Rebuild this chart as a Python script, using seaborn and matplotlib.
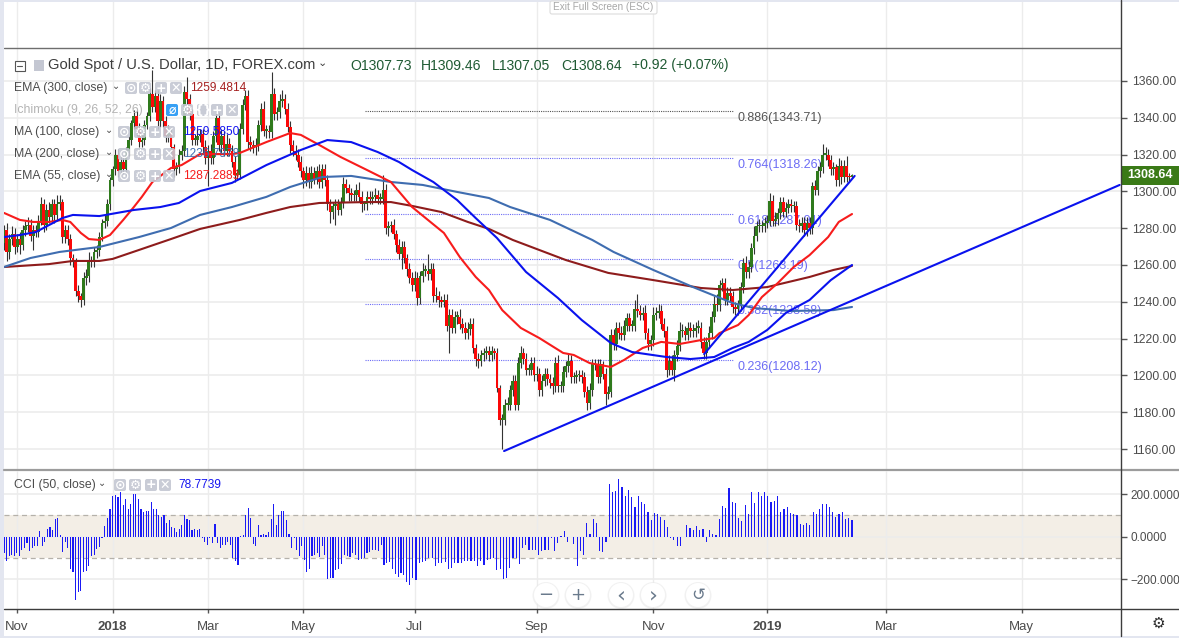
import numpy as np
import pandas as pd
import seaborn as sns
import matplotlib
matplotlib.use("Agg")
import matplotlib.pyplot as plt
from matplotlib.patches import FancyBboxPatch, Circle, Rectangle

# daily closes, bar 0 = left edge
closes = [
    1279,1267,1274,1277,1270,1274,1271,1279,1281,1282,
    1276,1279,1278,1284,1293,1282,1290,1286,1293,1287,
    1293,1294,1275,1279,1274,1264,1262,1246,1243,1241,
    1253,1254,1262,1262,1267,1268,1275,1283,1284,1293,
    1306,1312,1320,1311,1316,1312,1322,1328,1337,1341,
    1334,1327,1328,1336,1341,1353,1346,1352,1338,1349,
    1338,1330,1332,1324,1312,1313,1320,1322,1354,1350,
    1342,1328,1328,1330,1331,1324,1318,1322,1318,1330,
    1340,1325,1330,1322,1326,1322,1316,1309,1309,1334,
    1347,1352,1327,1325,1324,1325,1336,1345,1333,1333,
    1332,1353,1342,1343,1349,1350,1345,1335,1325,1322,
    1320,1316,1311,1306,1310,1305,1310,1307,1311,1305,
    1312,1306,1293,1289,1292,1293,1290,1294,1304,1302,
    1299,1298,1298,1301,1297,1293,1293,1297,1296,1297,
    1298,1296,1296,1301,1280,1281,1282,1277,1271,1266,
    1270,1264,1258,1253,1249,1253,1242,1254,1257,1257,
    1255,1258,1243,1243,1241,1240,1241,1227,1233,1226,
    1232,1232,1228,1226,1223,1225,1228,1215,1209,1208,
    1211,1212,1213,1211,1213,1212,1193,1176,1176,1184,
    1184,1192,1197,1184,1207,1212,1209,1203,1203,1207,
    1200,1201,1192,1197,1201,1198,1196,1194,1207,1194,
    1194,1202,1205,1208,1199,1199,1200,1200,1199,1191,
    1185,1192,1206,1206,1199,1206,1201,1190,1191,1222,
    1217,1226,1223,1222,1227,1231,1227,1227,1236,1235,
    1233,1234,1223,1217,1219,1233,1234,1235,1228,1224,
    1203,1208,1203,1211,1216,1224,1224,1222,1226,1224,
    1224,1226,1226,1218,1212,1218,1223,1232,1239,1238,
    1249,1250,1241,1245,1243,1237,1236,1238,1248,1261,
    1256,1259,1269,1276,1281,1281,1281,1283,1284,1295,
    1284,1285,1288,1294,1289,1291,1293,1292,1292,1282,
    1281,1283,1279,1283,1280,1303,1301,1311,1313,1320,
    1320,1317,1312,1313,1306,1314,1308,1314,1308,1307.73,1308.64]
first_open = 1272

upper_wick = [
    3,4,3,4,3,3,4,3,3,4, 3,3,3,3,4,3,3,4,3,3, 5,4,2,3,3,3,2,2,3,2, 3,4,5,3,3,3,3,2,3,3,
    2,2,3,3,3,3,2,2,2,3, 3,3,3,3,2,3,13,3,3,4, 3,3,4,3,2,3,3,3,3,8, 3,3,3,4,3,3,4,3,4,3,
    4,3,4,3,5,3,3,3,3,3, 3,3,3,3,3,4,3,3,4,3, 3,12,3,3,4,5,3,3,3,3, 3,3,3,2,4,3,4,3,3,4,
    3,3,3,3,2,3,3,3,4,3, 2,3,3,3,4,3,2,3,3,3, 4,3,3,8,3,3,2,3,2,3, 3,3,2,3,3,4,3,3,4,3,
    9,3,3,5,3,2,3,3,3,3, 3,3,4,3,3,4,3,3,2,3, 3,3,3,3,3,2,3,2,3,3, 4,3,3,3,3,4,3,3,3,3,
    3,4,3,3,3,3,3,3,3,4, 3,3,3,4,3,3,3,3,3,3, 3,4,3,3,3,3,2,3,3,3, 3,3,3,4,3,3,3,3,5,8,
    3,3,4,3,3,4,3,4,3,3, 3,3,3,3,3,5,4,3,3,3, 4,3,4,3,3,3,4,3,4,5, 3,3,3,3,3,3,3,3,3,3,
    4,3,3,5,3,4,3,3,3,4, 3,4,3,3,3,3,3,3,3,3, 3,3,3,3,3,2,3,3,3,6, 4,3,3,3,2,4,3,3,5,2,0.82]
lower_wick = [
    4,5,4,3,4,3,5,3,3,3, 3,8,3,3,2,4,3,3,3,4, 3,3,3,3,3,4,3,3,3,4, 3,4,3,3,3,3,3,2,3,3,
    3,3,3,3,3,3,3,3,3,3, 4,3,3,3,2,3,3,3,4,3, 3,3,3,3,4,3,3,3,3,3, 3,3,3,3,3,3,3,15,3,3,
    3,3,4,3,3,3,3,4,3,2, 3,3,4,3,3,4,3,3,3,4, 3,3,3,3,3,3,3,3,4,3, 3,3,3,4,3,3,3,3,3,3,
    3,3,3,6,4,10,3,3,3,3, 4,3,3,3,3,4,3,3,3,3, 3,3,3,3,3,4,3,3,4,3, 8,3,4,3,3,3,4,3,3,3,
    3,3,3,3,4,3,3,3,15,3, 3,4,3,3,3,3,3,3,4,4, 3,3,3,3,3,3,2,3,16,3, 3,3,3,3,3,3,3,3,3,3,
    3,3,3,3,3,3,3,4,3,3, 3,3,3,3,3,3,3,3,3,3, 4,3,3,3,3,3,3,6,3,3, 3,3,3,3,3,3,3,3,3,3,
    3,3,3,3,3,3,3,3,3,3, 4,3,3,6,3,3,3,3,3,3, 3,3,3,3,3,3,3,3,3,3, 3,3,3,3,3,3,3,3,3,3,
    3,3,3,3,3,3,3,3,3,3, 3,3,3,3,3,3,3,3,3,3, 3,3,3,3,3,3,3,3,3,3, 3,3,3,3,3,3,4,3,3,2,0.68]

# moving averages, (bar, price) pairs
ema55_bar = [0,6,11,17,22,25,29,32,36,40,45,49,52,56,63,67,74,86,89,99,108,112,119,127,137,143,146,154,
             166,172,178,183,188,195,202,211,215,221,229,234,241,248,255,263,268,270,277,281,286,292,298,304,311,315,320]
ema55_val = [1288.3,1284.5,1283.4,1283.4,1284.5,1283.4,1277.4,1274.1,1273.6,1276.3,1284.5,1291.5,1297,1305.1,
             1312.7,1314.3,1320.3,1320.3,1320.9,1326.8,1331.7,1330.7,1325.2,1318.7,1311.6,1307.3,1305.1,1291.5,
             1277.4,1264.3,1253.5,1246.4,1235.5,1225.8,1220.3,1212.2,1211.1,1206.7,1204.6,1208.4,1214.9,1218.2,
             1217.1,1219.2,1220.3,1223,1227.4,1232.8,1242.6,1250.2,1258.9,1265.4,1275.2,1283.4,1287.7]
ema300_bar = [0,17,26,36,41,51,63,74,89,99,108,119,137,146,154,165,175,183,192,212,228,245,263,275,288,304,313,320]
ema300_val = [1258.9,1260.5,1262.2,1262.2,1263.3,1268.2,1274.1,1279.6,1284.5,1288.3,1291.5,1293.7,1294.2,1294.2,
              1292.1,1288.8,1283.4,1279.6,1273.6,1262.7,1255.7,1251.8,1247.5,1246.4,1248,1253.5,1257.3,1259.5]
ma200_bar = [0,10,21,36,51,63,74,86,99,108,120,131,146,158,171,183,191,206,222,230,245,260,275,283,297,313,320]
ma200_val = [1258.9,1263.8,1267.1,1269.8,1275.2,1280.1,1287.2,1291.5,1297,1302.4,1307.8,1308.4,1305.1,1303.5,
             1299.7,1296.4,1291.5,1284.5,1273.6,1267.1,1257.3,1248,1239.3,1236.6,1235,1235.5,1237.2]
ma100_bar = [0,6,12,17,22,26,36,49,59,66,74,86,99,112,122,131,141,149,154,162,171,178,186,197,209,218,229,237,
             250,259,268,275,281,288,295,304,312,320]
ma100_val = [1275.2,1276.3,1277.9,1281.7,1285.5,1287.2,1286.6,1289.9,1291.5,1293.7,1300.2,1304.6,1314.3,1322.5,
             1327.9,1326.8,1321.4,1316,1311.6,1305.1,1295.3,1285.5,1274.7,1256.2,1242.1,1230.1,1217.6,1212.7,
             1210,1208.9,1210,1214.9,1218.2,1224.7,1233.9,1241,1251.8,1260]

trend1_bar = [188.7, 421]
trend1_val = [1158.9, 1303.5]
trend2_bar = [264.2, 321]
trend2_val = [1211.6, 1308.4]

fib_levels = [1343.71, 1318.26, 1287.91, 1263.19, 1238.58, 1208.12]
fib_labels = ["0.886(1343.71)", "0.764(1318.26)", "0.618(1287.91)", "0.5(1263.19)", "0.382(1238.58)", "0.236(1208.12)"]
fib_start, fib_end = 136.2, 275

cci = [
    -75,-115,-92,-85,-92,-77,-92,-62,-54,-31,-66,-54,-42,-46,26,-43,-26,35,46,30,85,88,8,-72,-23,-54,-154,-165,-300,-262,
    -257,-165,-162,-139,-92,-88,-58,-50,-5,50,88,128,190,195,185,208,150,177,130,154,200,200,177,130,115,123,123,165,130,130,
    100,92,100,66,77,46,42,23,38,54,100,82,77,31,35,31,35,-5,-26,-38,-5,-31,58,-31,-54,-38,-38,-26,-38,-100,
    -112,-134,5,10,103,134,88,-34,-43,57,10,15,10,20,82,154,54,103,123,123,77,15,-54,-5,-62,-92,-46,-111,-166,-154,
    -92,-85,-77,-97,-46,-85,-197,-192,-195,-158,-150,-128,-85,-92,-97,-77,-85,-108,-103,-100,-77,-72,-62,-62,-69,-38,-131,-123,-118,-154,
    -177,-189,-169,-180,-215,-228,-192,-205,-126,-120,-115,-100,-100,-139,-123,-126,-118,-154,-149,-123,-126,-123,-115,-115,-115,-112,-139,-115,-131,-108,
    -105,-100,-158,-154,-200,-192,-149,-100,-100,-128,-54,-38,-62,-62,-62,-88,-66,-62,-62,-5,-66,-31,5,26,-26,0,-35,-139,-69,-88,
    66,15,82,66,-66,-72,-26,250,210,213,270,235,192,220,185,139,192,162,154,115,77,112,108,92,77,46,-8,-15,-46,-46,
    0,54,42,31,51,31,38,-26,31,15,8,82,146,134,231,165,158,88,72,150,108,210,158,210,192,208,190,165,170,190,
    115,130,139,112,108,103,62,54,66,57,115,108,130,154,154,139,115,92,108,115,85,89,78.77]
# where a few of those cci bars sit on the bar axis, for placing the rest
cci_anchor_idx = [0, 28, 45, 126, 155, 182, 220, len(cci) - 1]
cci_anchor_bar = [0, 27, 44, 122, 153, 186, 232, 320]
cci_ticks = [200, 0, -200]

x_ticks = [4.9, 41, 77, 113, 155, 201, 245, 288, 333, 384]
x_labels = ["Nov", "2018", "Mar", "May", "Jul", "Sep", "Nov", "2019", "Mar", "May"]
price_ticks = list(range(1160, 1361, 20))
last_price = 1308.64

sns.set_style("white")
plt.rcParams["font.family"] = ["Liberation Sans", "DejaVu Sans"]

GRID = "#ececec"
TXT = "#4c4c4c"
W, H = 1179, 638

df = pd.DataFrame({"close": closes, "up": upper_wick, "low": lower_wick})
df["bar"] = df.index
df["open"] = df["close"].shift(1).fillna(first_open)
df["top"] = df[["open", "close"]].max(axis=1)
df["bot"] = df[["open", "close"]].min(axis=1)

fig = plt.figure(figsize=(W / 100, H / 100), dpi=100, facecolor="white")
ax = fig.add_axes([4 / W, (H - 470) / H, 1117 / W, 470 / H])
ax2 = fig.add_axes([4 / W, (H - 609) / H, 1117 / W, 138 / H])

for a in (ax, ax2):
    a.set_xlim(0, 421.5)
    a.set_facecolor("white")
    a.set_axisbelow(True)

# price panel
ax.set_ylim(1148.6, 1404.0)
ax.vlines(x_ticks, 1148.6, 1404.0, color=GRID, lw=1, zorder=0)
ax.hlines(price_ticks, 0, 421.5, color=GRID, lw=1.2, zorder=0)
ax.axhline(1378, color="#6e6e6e", lw=1, zorder=1)

for lvl, lab in zip(fib_levels, fib_labels):
    col = "#555555" if lab.startswith("0.886") else "#6c6cf5"
    ax.hlines(lvl, fib_start, fib_end, color=col, lw=0.8, ls=(0, (1, 1)), zorder=1)
    ax.annotate(lab, (fib_end, lvl), xytext=(5, -1), textcoords="offset pixels", color=col,
                fontsize=9, va="top", zorder=1)

up = df[df["close"] >= df["open"]]
down = df[df["close"] < df["open"]]
ax.vlines(df["bar"], df["bot"] - df["low"], df["top"] + df["up"], color="#333333", lw=0.8, zorder=2)
ax.bar(up["bar"], (up["top"] - up["bot"]).clip(lower=0.8), bottom=up["bot"], width=1.05, color="#2f7a1c", lw=0, zorder=2.2)
ax.bar(down["bar"], (down["top"] - down["bot"]).clip(lower=0.8), bottom=down["bot"], width=1.05, color="#fb0808", lw=0, zorder=2.3)

sns.lineplot(x=ema300_bar, y=ema300_val, ax=ax, color="#8e1c1c", lw=1.5, zorder=3, estimator=None)
sns.lineplot(x=ma200_bar, y=ma200_val, ax=ax, color="#3f6db0", lw=1.5, zorder=3, estimator=None)
sns.lineplot(x=ema55_bar, y=ema55_val, ax=ax, color="#f71c1c", lw=1.5, zorder=3, estimator=None)
sns.lineplot(x=ma100_bar, y=ma100_val, ax=ax, color="#0a12ee", lw=1.5, zorder=3, estimator=None)
sns.lineplot(x=trend1_bar, y=trend1_val, ax=ax, color="#0a12ee", lw=1.5, zorder=3, estimator=None)
sns.lineplot(x=trend2_bar, y=trend2_val, ax=ax, color="#0a12ee", lw=1.5, zorder=3, estimator=None)

ax.set_xticks([])
ax.yaxis.tick_right()
ax.set_yticks(price_ticks)
ax.set_yticklabels([f"{p}.00" for p in price_ticks], fontsize=8.7, color=TXT)
ax.tick_params(axis="y", length=4, width=1, color="#555555", pad=4, right=True)
for s in ax.spines.values():
    s.set_visible(False)
ax.set_xlim(0, 421.5)
ax.set_ylim(1148.6, 1404.0)

# cci panel
ax2.set_ylim(-340, 309)
ax2.axhspan(-100, 100, color="#f3eee6", lw=0, zorder=0)
ax2.vlines(x_ticks, -340, 309, color=GRID, lw=1, zorder=0.5)
ax2.hlines([200, 0, -200], 0, 421.5, color=GRID, lw=1.2, zorder=0.5)
ax2.hlines([100, -100], 0, 421.5, color="#b5b1aa", lw=0.9, ls=(0, (4, 3)), zorder=0.6)
cci_pos = np.interp(np.arange(len(cci)), cci_anchor_idx, cci_anchor_bar)
sns.barplot(x=cci_pos, y=cci, ax=ax2, native_scale=True, color="#1a1af5", saturation=1, width=0.45, linewidth=0, zorder=2)
ax2.set_xlim(0, 421.5)
ax2.set_ylim(-340, 309)
ax2.set_xlabel("")
ax2.set_xticks(x_ticks)
ax2.set_xticklabels(x_labels, fontsize=9.5, color=TXT, va="baseline")
for t in ax2.get_xticklabels():
    if t.get_text().startswith("20"):
        t.set_fontweight("bold")
ax2.tick_params(axis="x", length=3, width=1, color="#555555", pad=12, bottom=True)
ax2.yaxis.tick_right()
ax2.set_yticks(cci_ticks)
ax2.set_yticklabels(["200.0000", "0.0000", "\u2212200.000"], fontsize=8.5, color=TXT)
ax2.tick_params(axis="y", length=4, width=1, color="#555555", pad=3, right=True)
for s in ax2.spines.values():
    s.set_visible(False)

# page furniture in pixel coordinates
ov = fig.add_axes([0, 0, 1, 1], zorder=10)
ov.set_xlim(0, W)
ov.set_ylim(H, 0)
ov.axis("off")
ov.patch.set_alpha(0)

ov.add_patch(Rectangle((0, 0), 4, H, color="#e3e6f0", lw=0))
ov.add_patch(Rectangle((0, 0), W, 2, color="#e3e6f0", lw=0))
ov.add_patch(Rectangle((0, 636), W, 2, color="#e3e6f0", lw=0))
ov.plot([4, W], [470, 470], color="#9c9c9c", lw=1.6)
ov.plot([4, W], [609, 609], color="#3c3c3c", lw=1)
ov.plot([1121, 1121], [0, 636], color="#3c3c3c", lw=1)

ov.add_patch(FancyBboxPatch((550, 1), 107, 13, boxstyle="round,pad=0,rounding_size=2", fc="white", ec="#dcdcdc", lw=0.8))
ov.text(603.5, 7, "Exit Full Screen (ESC)", fontsize=7.2, color="#a8a8a8", ha="center", va="center")

# header
ov.add_patch(Rectangle((14.5, 60.5), 10, 10, fc="white", ec="#555555", lw=0.8))
ov.plot([17, 22], [65.5, 65.5], color="#555555", lw=0.8)
ov.add_patch(Rectangle((34, 60), 10, 11, color="#c4c7d2", lw=0))
ov.text(48, 65.5, "Gold Spot / U.S. Dollar, 1D, FOREX.com", fontsize=10.6, color="#3c3c3c", va="center")
ov.text(318, 63, "\u2304", fontsize=8, color="#3c3c3c", va="center", family="DejaVu Sans")
for x0, s in zip([350, 421, 492, 561, 632],
                 ["O1307.73", "H1309.46", "L1307.05", "C1308.64", "+0.92 (+0.07%)"]):
    ov.text(x0, 65.5, s, fontsize=10.1, color="#1f5a33", va="center")

# indicator legend rows
def icon(x, y, glyph, fc="#c4c7d2", size=9):
    ov.add_patch(FancyBboxPatch((x - 6, y - 6), 12, 12, boxstyle="round,pad=0,rounding_size=2", fc=fc, ec="none", alpha=0.9))
    ov.text(x, y, glyph, fontsize=size, color="white", ha="center", va="center", family="DejaVu Sans", fontweight="bold")

rows = [
    (88, "EMA (300, close)", "#4c4c4c", "1259.4814", "#a52020", 190, [131, 145, 161, 176]),
    (132, "MA (100, close)", "#4c4c4c", "1259.5850", "#1414f0", 183, [124, 140, 155, 169]),
    (154, "MA (200, close)", "#4c4c4c", "1236.7978", "#3f6db0", 183, [124, 140, 155, 169]),
    (176, "EMA (55, close)", "#4c4c4c", "1287.2889", "#f71c1c", 183, [124, 140, 155, 169]),
]
for y, name, col, val, vcol, vx, xs in rows:
    ov.text(14, y, name, fontsize=8.8, color=col, va="center")
    ov.text(xs[0] - 19, y - 2, "\u2304", fontsize=7, color=col, va="center", family="DejaVu Sans")
    for xi, g in zip(xs, ["\u2299", "\u2699", "+", "\u2715"]):
        icon(xi, y, g)
    ov.text(vx, y, val, fontsize=8.6, color=vcol, va="center")

ov.text(14, 110, "Ichimoku (9, 26, 52, 26)", fontsize=8.8, color="#b4b4b4", va="center")
icon(172, 110, "\u2300", fc="#2196f3")
for xi, g in zip([187, 203, 217, 232], ["\u2699", "{}", "+", "\u2715"]):
    icon(xi, 110, g)

ov.text(14, 485, "CCI (50, close)", fontsize=8.8, color="#4c4c4c", va="center")
ov.text(98, 483, "\u2304", fontsize=7, color="#4c4c4c", va="center", family="DejaVu Sans")
for xi, g in zip([120, 135, 151, 165], ["\u2299", "\u2699", "+", "\u2715"]):
    icon(xi, 485, g)
ov.text(178, 485, "78.7739", fontsize=8.6, color="#1414f0", va="center")

# price tag
ov.add_patch(Rectangle((1122, 166), 57, 19, color="#3a7a17", lw=0))
ov.text(1150.5, 175.5, f"{last_price:.2f}", fontsize=9, color="white", fontweight="bold", ha="center", va="center")

# zoom / nav buttons
for xc, g, fs in zip([546, 578, 621, 653, 698], ["\u2212", "+", "\u2039", "\u203a", "\u21ba"], [13, 13, 16, 16, 12]):
    ov.add_patch(Circle((xc, 595.5), 13.5, fc="#e9e9e9", ec="none", alpha=0.6))
    ov.add_patch(Circle((xc, 595), 12, fc="white", ec="none"))
    ov.text(xc, 595, g, fontsize=fs, color="#6a7a8c", ha="center", va="center", family="DejaVu Sans")

ov.text(1158, 623, "\u2699", fontsize=11, color="#2c2c2c", ha="center", va="center", family="DejaVu Sans")

fig.savefig("out.png", dpi=100)
